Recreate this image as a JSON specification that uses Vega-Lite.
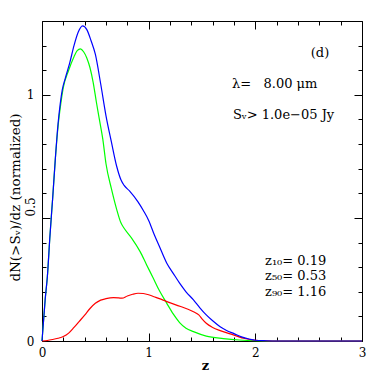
{
  "$schema": "https://vega.github.io/schema/vega-lite/v6.json",
  "width": 320,
  "height": 320,
  "autosize": "none",
  "padding": {"left": 42, "top": 21, "right": 20, "bottom": 41},
  "background": "white",
  "config": {
    "view": {"stroke": "black", "strokeWidth": 1},
    "font": "DejaVu Serif",
    "axis": {
      "domain": false,
      "grid": false,
      "tickColor": "black",
      "tickWidth": 1,
      "labelFont": "DejaVu Serif",
      "labelFontSize": 12,
      "labelColor": "black",
      "titleFont": "DejaVu Serif",
      "titleFontSize": 13,
      "titleFontWeight": "normal",
      "titleColor": "black"
    },
    "text": {"font": "DejaVu Serif", "fontSize": 13, "color": "black"}
  },
  "datasets": {
    "curves": [
      {"s": "green", "z": 0, "v": 0}, {"s": "green", "z": 0.03, "v": 0.17}, {"s": "green", "z": 0.05, "v": 0.26}, {"s": "green", "z": 0.075, "v": 0.43}, {"s": "green", "z": 0.1, "v": 0.58}, {"s": "green", "z": 0.125, "v": 0.74}, {"s": "green", "z": 0.15, "v": 0.87}, {"s": "green", "z": 0.175, "v": 0.96}, {"s": "green", "z": 0.2, "v": 1.03}, {"s": "green", "z": 0.25, "v": 1.1}, {"s": "green", "z": 0.3, "v": 1.155}, {"s": "green", "z": 0.33, "v": 1.18}, {"s": "green", "z": 0.36, "v": 1.187}, {"s": "green", "z": 0.39, "v": 1.175}, {"s": "green", "z": 0.42, "v": 1.15}, {"s": "green", "z": 0.45, "v": 1.11}, {"s": "green", "z": 0.48, "v": 1.05}, {"s": "green", "z": 0.51, "v": 0.97}, {"s": "green", "z": 0.54, "v": 0.895}, {"s": "green", "z": 0.57, "v": 0.82}, {"s": "green", "z": 0.6, "v": 0.72}, {"s": "green", "z": 0.65, "v": 0.62}, {"s": "green", "z": 0.7, "v": 0.535}, {"s": "green", "z": 0.74, "v": 0.48}, {"s": "green", "z": 0.77, "v": 0.458}, {"s": "green", "z": 0.84, "v": 0.418}, {"s": "green", "z": 0.92, "v": 0.363}, {"s": "green", "z": 0.98, "v": 0.31}, {"s": "green", "z": 1.04, "v": 0.258}, {"s": "green", "z": 1.1, "v": 0.205}, {"s": "green", "z": 1.17, "v": 0.153}, {"s": "green", "z": 1.23, "v": 0.11}, {"s": "green", "z": 1.29, "v": 0.075}, {"s": "green", "z": 1.35, "v": 0.052}, {"s": "green", "z": 1.42, "v": 0.038}, {"s": "green", "z": 1.54, "v": 0.02}, {"s": "green", "z": 1.7, "v": 0.01}, {"s": "green", "z": 1.85, "v": 0.004}, {"s": "green", "z": 2.0, "v": 0.001}, {"s": "green", "z": 2.2, "v": 0}, {"s": "green", "z": 3.0, "v": 0},
      {"s": "red", "z": 0, "v": 0}, {"s": "red", "z": 0.05, "v": 0.002}, {"s": "red", "z": 0.1, "v": 0.006}, {"s": "red", "z": 0.15, "v": 0.011}, {"s": "red", "z": 0.2, "v": 0.018}, {"s": "red", "z": 0.25, "v": 0.032}, {"s": "red", "z": 0.3, "v": 0.055}, {"s": "red", "z": 0.35, "v": 0.08}, {"s": "red", "z": 0.4, "v": 0.105}, {"s": "red", "z": 0.45, "v": 0.132}, {"s": "red", "z": 0.5, "v": 0.153}, {"s": "red", "z": 0.55, "v": 0.166}, {"s": "red", "z": 0.6, "v": 0.172}, {"s": "red", "z": 0.67, "v": 0.176}, {"s": "red", "z": 0.72, "v": 0.175}, {"s": "red", "z": 0.75, "v": 0.174}, {"s": "red", "z": 0.8, "v": 0.183}, {"s": "red", "z": 0.85, "v": 0.19}, {"s": "red", "z": 0.9, "v": 0.194}, {"s": "red", "z": 0.95, "v": 0.193}, {"s": "red", "z": 1.0, "v": 0.188}, {"s": "red", "z": 1.05, "v": 0.18}, {"s": "red", "z": 1.1, "v": 0.172}, {"s": "red", "z": 1.17, "v": 0.16}, {"s": "red", "z": 1.3, "v": 0.14}, {"s": "red", "z": 1.42, "v": 0.119}, {"s": "red", "z": 1.47, "v": 0.106}, {"s": "red", "z": 1.5, "v": 0.09}, {"s": "red", "z": 1.54, "v": 0.072}, {"s": "red", "z": 1.6, "v": 0.055}, {"s": "red", "z": 1.67, "v": 0.042}, {"s": "red", "z": 1.8, "v": 0.024}, {"s": "red", "z": 1.9, "v": 0.01}, {"s": "red", "z": 2.0, "v": 0.003}, {"s": "red", "z": 2.1, "v": 0.001}, {"s": "red", "z": 2.2, "v": 0}, {"s": "red", "z": 3.0, "v": 0},
      {"s": "blue", "z": 0, "v": 0}, {"s": "blue", "z": 0.03, "v": 0.17}, {"s": "blue", "z": 0.05, "v": 0.26}, {"s": "blue", "z": 0.075, "v": 0.43}, {"s": "blue", "z": 0.1, "v": 0.58}, {"s": "blue", "z": 0.125, "v": 0.74}, {"s": "blue", "z": 0.15, "v": 0.88}, {"s": "blue", "z": 0.17, "v": 0.96}, {"s": "blue", "z": 0.19, "v": 1.02}, {"s": "blue", "z": 0.22, "v": 1.07}, {"s": "blue", "z": 0.26, "v": 1.13}, {"s": "blue", "z": 0.3, "v": 1.2}, {"s": "blue", "z": 0.34, "v": 1.255}, {"s": "blue", "z": 0.38, "v": 1.28}, {"s": "blue", "z": 0.42, "v": 1.265}, {"s": "blue", "z": 0.46, "v": 1.22}, {"s": "blue", "z": 0.5, "v": 1.165}, {"s": "blue", "z": 0.55, "v": 1.045}, {"s": "blue", "z": 0.6, "v": 0.915}, {"s": "blue", "z": 0.65, "v": 0.81}, {"s": "blue", "z": 0.7, "v": 0.71}, {"s": "blue", "z": 0.74, "v": 0.655}, {"s": "blue", "z": 0.77, "v": 0.632}, {"s": "blue", "z": 0.82, "v": 0.61}, {"s": "blue", "z": 0.9, "v": 0.565}, {"s": "blue", "z": 0.95, "v": 0.53}, {"s": "blue", "z": 1.0, "v": 0.49}, {"s": "blue", "z": 1.05, "v": 0.435}, {"s": "blue", "z": 1.1, "v": 0.385}, {"s": "blue", "z": 1.17, "v": 0.316}, {"s": "blue", "z": 1.23, "v": 0.275}, {"s": "blue", "z": 1.29, "v": 0.235}, {"s": "blue", "z": 1.35, "v": 0.2}, {"s": "blue", "z": 1.42, "v": 0.167}, {"s": "blue", "z": 1.48, "v": 0.135}, {"s": "blue", "z": 1.54, "v": 0.106}, {"s": "blue", "z": 1.6, "v": 0.082}, {"s": "blue", "z": 1.67, "v": 0.058}, {"s": "blue", "z": 1.73, "v": 0.043}, {"s": "blue", "z": 1.8, "v": 0.03}, {"s": "blue", "z": 1.87, "v": 0.017}, {"s": "blue", "z": 1.95, "v": 0.007}, {"s": "blue", "z": 2.0, "v": 0.003}, {"s": "blue", "z": 2.1, "v": 0.001}, {"s": "blue", "z": 2.2, "v": 0}, {"s": "blue", "z": 2.5, "v": 0}, {"s": "blue", "z": 3.0, "v": 0}
    ],
    "notes": [
      {"t": "(d)", "z": 2.52, "v": 1.172},
      {"t": "λ=\u00a0\u00a0\u00a08.00 μm", "z": 1.781, "v": 1.046},
      {"t": "Sᵥ> 1.0e−05 Jy", "z": 1.79, "v": 0.92},
      {"t": "z₁₀=\u00a00.19", "z": 2.091, "v": 0.326},
      {"t": "z₅₀=\u00a00.53", "z": 2.091, "v": 0.265},
      {"t": "z₉₀=\u00a01.16", "z": 2.091, "v": 0.199}
    ]
  },
  "resolve": {"axis": {"x": "independent", "y": "independent"}},
  "layer": [
    {
      "data": {"name": "curves"},
      "mark": {"type": "line", "strokeWidth": 1.2, "interpolate": "monotone"},
      "encoding": {
        "x": {
          "field": "z", "type": "quantitative",
          "scale": {"domain": [0, 3], "nice": false, "zero": false},
          "axis": {
            "orient": "bottom",
            "values": [0, 0.2, 0.4, 0.6, 0.8, 1, 1.2, 1.4, 1.6, 1.8, 2, 2.2, 2.4, 2.6, 2.8, 3],
            "labelExpr": "datum.value % 1 === 0 ? toString(datum.value) : ''",
            "tickSize": {"condition": {"test": "datum.value % 1 === 0", "value": -8}, "value": -4},
            "labelPadding": 14,
            "labelFlush": false,
            "labelOverlap": false,
            "title": "z",
            "titleFontWeight": "bold",
            "titleX": 163,
            "titleY": 24,
            "titleBaseline": "middle",
            "titleAlign": "center"
          }
        },
        "y": {
          "field": "v", "type": "quantitative",
          "scale": {"domain": [0, 1.3], "nice": false, "zero": false},
          "axis": {
            "orient": "left",
            "values": [0, 0.1, 0.2, 0.3, 0.4, 0.5, 0.6, 0.7, 0.8, 0.9, 1, 1.1, 1.2, 1.3],
            "labelExpr": "(datum.value === 0 || datum.value === 0.5 || datum.value === 1) ? toString(datum.value) : ''",
            "tickSize": {"condition": {"test": "datum.value === 0 || datum.value === 0.5 || datum.value === 1", "value": -8}, "value": -4},
            "labelAngle": {"expr": "datum.value === 0.5 ? -90 : 0"},
            "labelAlign": {"condition": {"test": "datum.value === 0.5", "value": "left"}, "value": "right"},
            "labelBaseline": "middle",
            "labelPadding": {"condition": {"test": "datum.value === 0.5", "value": 20}, "value": 16},
            "labelOffset": {"condition": {"test": "datum.value === 0.5", "value": -2}, "value": 0},
            "labelFlush": false,
            "labelOverlap": false,
            "title": "dN(>Sᵥ)/dz (normalized)",
            "titleFontSize": 13.5,
            "titleX": -27,
            "titleY": 176,
            "titleAngle": -90,
            "titleBaseline": "middle",
            "titleAlign": "center"
          }
        },
        "color": {
          "field": "s", "type": "nominal",
          "scale": {"domain": ["green", "red", "blue"], "range": ["#00ff00", "#ff0000", "#0000ff"]},
          "legend": null
        }
      }
    },
    {
      "data": {"name": "notes"},
      "mark": {"type": "text", "align": "left", "baseline": "middle", "fontSize": 13},
      "encoding": {
        "x": {
          "field": "z", "type": "quantitative",
          "scale": {"domain": [0, 3], "nice": false, "zero": false},
          "axis": {
            "orient": "top",
            "values": [0, 0.2, 0.4, 0.6, 0.8, 1, 1.2, 1.4, 1.6, 1.8, 2, 2.2, 2.4, 2.6, 2.8, 3],
            "tickSize": {"condition": {"test": "datum.value % 1 === 0", "value": -8}, "value": -4},
            "labels": false,
            "title": null
          }
        },
        "y": {
          "field": "v", "type": "quantitative",
          "scale": {"domain": [0, 1.3], "nice": false, "zero": false},
          "axis": {
            "orient": "right",
            "values": [0, 0.1, 0.2, 0.3, 0.4, 0.5, 0.6, 0.7, 0.8, 0.9, 1, 1.1, 1.2, 1.3],
            "tickSize": {"condition": {"test": "datum.value === 0 || datum.value === 0.5 || datum.value === 1", "value": -8}, "value": -4},
            "labels": false,
            "title": null
          }
        },
        "text": {"field": "t", "type": "nominal"}
      }
    }
  ]
}
